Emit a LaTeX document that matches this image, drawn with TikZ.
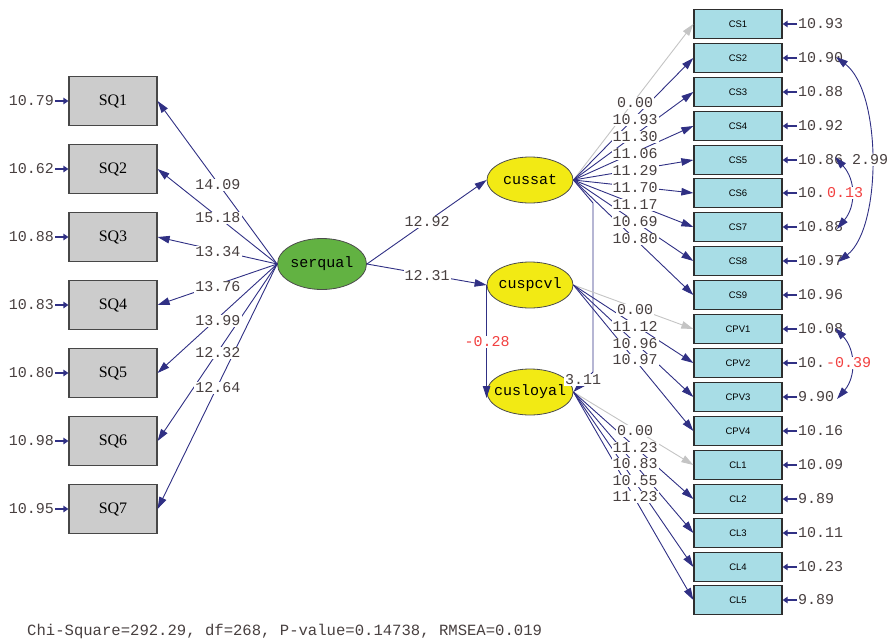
\documentclass[tikz,border=0pt]{standalone}
\usepackage{fontspec}
\setmainfont{Liberation Serif}
\newfontfamily\lismono{Liberation Mono}
\newfontfamily\lissans{Liberation Sans}
\usetikzlibrary{arrows.meta,shapes.geometric}
\definecolor{pathblue}{RGB}{48,48,132}
\definecolor{sqgray}{RGB}{204,204,204}
\definecolor{boxcyan}{RGB}{168,221,230}
\definecolor{latgreen}{RGB}{98,178,66}
\definecolor{latyellow}{RGB}{242,234,20}
\definecolor{numcol}{RGB}{72,64,64}
\definecolor{redlab}{RGB}{242,64,64}
\definecolor{fixgray}{RGB}{196,196,196}
\tikzset{
  sqbox/.style={draw=black!72, line width=1.2pt, fill=sqgray, minimum width=88pt, minimum height=49pt, inner sep=0pt, font=\fontsize{16}{16}\selectfont},
  obsbox/.style={draw=black!82, line width=1.3pt, fill=boxcyan, minimum width=88pt, minimum height=29pt, inner sep=0pt, font=\lissans\fontsize{9.5}{10}\selectfont},
  latent/.style={ellipse, draw=black!70, line width=0.8pt, minimum width=86pt, minimum height=46pt, inner sep=0pt, font=\lismono\fontsize{15}{15}\selectfont},
  numlab/.style={font=\lismono\fontsize{15}{15}\selectfont, text=numcol, inner sep=1pt},
  coeflab/.style={numlab, fill=white},
  redcoef/.style={coeflab, text=redlab},
  load/.style={draw=pathblue, line width=0.9pt, -{Triangle[length=12pt,width=7.5pt]}},
  fixload/.style={draw=fixgray, line width=0.9pt, -{Triangle[length=12pt,width=7.5pt]}},
  errarrow/.style={draw=pathblue, line width=1.4pt, -{Triangle[length=5pt,width=6.5pt]}},
  covar/.style={draw=pathblue, line width=0.9pt, {Triangle[length=12pt,width=7.5pt]}-{Triangle[length=12pt,width=7.5pt]}}
}
\begin{document}
\begin{tikzpicture}[x=1pt,y=-1pt]
\useasboundingbox (0,0) rectangle (889,643);
% ---------- left observed variables ----------
\foreach \n/\lab/\y/\e in {sq1/SQ1/101/10.79, sq2/SQ2/169/10.62, sq3/SQ3/237/10.88, sq4/SQ4/305/10.83, sq5/SQ5/373/10.80, sq6/SQ6/441/10.98, sq7/SQ7/509/10.95}{
  \node[sqbox] (\n) at (113,\y) {\lab};
  \node[numlab, anchor=east] (e\n) at (55,\y) {\e};
  \draw[errarrow] (e\n.east) -- (\n.west);
}
% ---------- latent variables ----------
\node[latent, fill=latgreen, minimum width=89pt, minimum height=51pt] (serqual) at (322,264) {\makebox[0pt]{serqual}};
\node[latent, fill=latyellow] (cussat) at (530,180) {\makebox[0pt]{cussat}};
\node[latent, fill=latyellow] (cuspcvl) at (530,285) {\makebox[0pt]{cuspcvl}};
\node[latent, fill=latyellow] (cusloyal) at (530,392) {\makebox[0pt]{cusloyal}};
% ---------- right observed variables ----------
\foreach \n/\lab/\y/\e in {cs1/CS1/24/10.93, cs2/CS2/58/10.90, cs3/CS3/92/10.88, cs4/CS4/126/10.92, cs5/CS5/160/10.86, cs6/CS6/193/10., cs7/CS7/227/10.88, cs8/CS8/261/10.97, cs9/CS9/295/10.96, cpv1/CPV1/329/10.08, cpv2/CPV2/363/10., cpv3/CPV3/397/9.90, cpv4/CPV4/431/10.16, cl1/CL1/465/10.09, cl2/CL2/499/9.89, cl3/CL3/533/10.11, cl4/CL4/567/10.23, cl5/CL5/600/9.89}{
  \node[obsbox] (\n) at (738,\y) {\lab};
  \node[numlab, anchor=west] (e\n) at (797,\y) {\e};
  \draw[errarrow] (e\n.west) -- (\n.east);
}
% ---------- loadings serqual ----------
\foreach \t in {sq1,sq2,sq3,sq4,sq5,sq6,sq7}{
  \draw[load] (serqual.west) -- (\t.east);
}
% ---------- structural paths ----------
\draw[load] (serqual.east) -- (cussat.west);
\draw[load] (serqual.east) -- (cuspcvl.west);
\draw[load] (cuspcvl.west) -- ([yshift=-6pt]cusloyal.west);
\coordinate (k1) at (593,203);
\coordinate (k2) at (593,372);
\draw[load] (cussat.east) -- (k1) -- (k2) -- (cusloyal.east);
% ---------- loadings right ----------
\draw[fixload] (cussat.east) -- (cs1.west);
\foreach \t in {cs2,cs3,cs4,cs5,cs6,cs7,cs8,cs9}{
  \draw[load] (cussat.east) -- (\t.west);
}
\draw[fixload] (cuspcvl.east) -- (cpv1.west);
\foreach \t in {cpv2,cpv3,cpv4}{
  \draw[load] (cuspcvl.east) -- (\t.west);
}
\draw[fixload] (cusloyal.east) -- (cl1.west);
\foreach \t in {cl2,cl3,cl4,cl5}{
  \draw[load] (cusloyal.east) -- (\t.west);
}
% ---------- error covariances ----------
\coordinate (c2) at (836,57);
\coordinate (c8) at (838,262);
\coordinate (c5) at (835,157);
\coordinate (c7) at (837,229);
\coordinate (p1) at (835,328);
\coordinate (p3) at (837,399);
\draw[covar] (c2) .. controls (882,92) and (882,228) .. (c8);
\draw[covar] (c5) .. controls (856,180) and (856,206) .. (c7);
\draw[covar] (p1) .. controls (856,350) and (856,377) .. (p3);
% ---------- coefficient labels ----------
\foreach \y/\v in {185/14.09, 218/15.18, 252/13.34, 287/13.76, 321/13.99, 353/12.32, 388/12.64}{
  \node[coeflab] at (218,\y) {\v};
}
\node[coeflab] (l1) at (427,222) {12.92};
\node[coeflab] (l2) at (427,276) {12.31};
\node[redcoef] (l3) at (487,342) {-0.28};
\node[coeflab] (l4) at (583,380) {3.11};
\foreach \y/\v in {103/0.00, 120/10.93, 137/11.30, 154/11.06, 171/11.29, 188/11.70, 205/11.17, 222/10.69, 239/10.80}{
  \node[coeflab] at (635,\y) {\v};
}
\foreach \y/\v in {310/0.00, 326/11.12, 344/10.96, 360/10.97}{
  \node[coeflab] at (635,\y) {\v};
}
\foreach \y/\v in {431/0.00, 448/11.23, 464/10.83, 481/10.55, 497/11.23}{
  \node[coeflab] at (635,\y) {\v};
}
\node[coeflab] (v1) at (870,160) {2.99};
\node[redcoef, anchor=west] (v2) at (826,193) {0.13};
\node[redcoef, anchor=west] (v3) at (825,363) {-0.39};
% ---------- fit statistics ----------
\node[numlab, anchor=west, font=\lismono\fontsize{15.6}{16}\selectfont] (fit) at (26,631) {Chi-Square=292.29, df=268, P-value=0.14738, RMSEA=0.019};
\end{tikzpicture}
\end{document}
